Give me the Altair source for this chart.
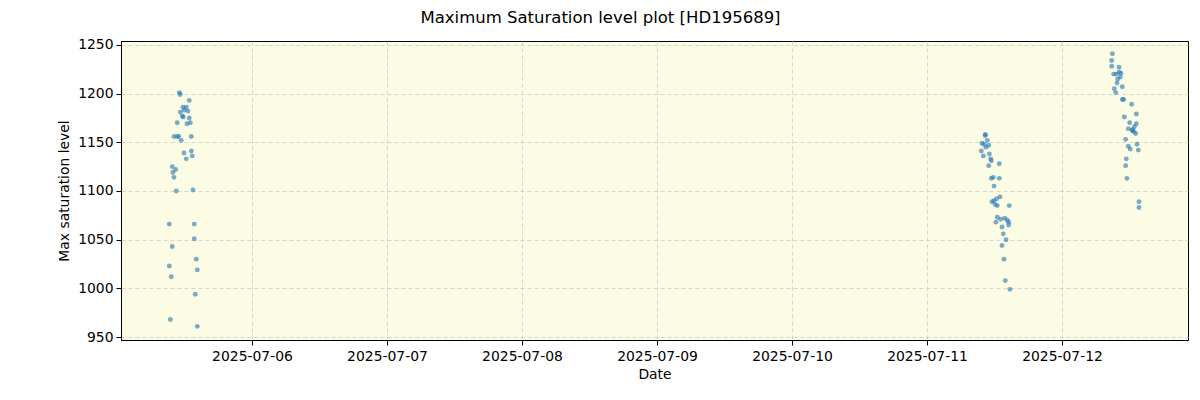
import altair as alt
import pandas as pd

# Cluster 1: 2025-07-05
times_1 = ["11:05", "11:15", "12:51", "11:44", "12:19", "11:15", "12:37", "11:58", "11:37", "11:47",
           "12:51", "13:02", "12:27", "10:43", "10:08", "10:43", "10:58", "13:13", "11:26", "11:55",
           "13:13", "13:23", "12:19", "09:50", "10:26", "09:57", "10:08", "10:33", "13:31", "09:18",
           "13:44", "13:44", "09:50", "14:06", "09:18", "14:17", "09:39", "13:55", "09:29", "14:17"]
values_1 = [1201, 1199, 1193, 1186, 1186, 1181, 1182, 1183, 1177, 1176,
            1175, 1170, 1169, 1170, 1156, 1156, 1156, 1156, 1152, 1139,
            1141, 1136, 1133, 1125, 1122, 1119, 1114, 1100, 1101, 1066,
            1066, 1051, 1043, 1030, 1023, 1019, 1012, 994, 968, 961]

# Cluster 2: 2025-07-11
times_2 = ["10:22", "10:22", "10:43", "09:47", "10:08", "10:29", "10:58", "09:39", "10:01", "11:05",
           "11:19", "11:26", "10:58", "12:51", "11:26", "11:47", "12:51", "11:55", "11:33", "11:55",
           "12:23", "12:59", "12:08", "12:30", "14:38", "12:30", "13:06", "13:49", "14:17", "14:31",
           "12:16", "14:31", "13:20", "13:34", "14:03", "13:20", "13:41", "13:55", "14:45"]
values_2 = [1158, 1157, 1152, 1149, 1148, 1145, 1147, 1141, 1136, 1138,
            1133, 1131, 1126, 1128, 1113, 1114, 1113, 1105, 1089, 1090,
            1092, 1094, 1086, 1085, 1085, 1073, 1071, 1072, 1070, 1068,
            1068, 1065, 1063, 1056, 1050, 1044, 1030, 1008, 999]

# Cluster 3: 2025-07-12
times_3 = ["08:57", "08:50", "08:50", "10:08", "09:11", "09:39", "10:08", "10:29", "10:22", "09:54",
           "09:47", "10:43", "09:18", "09:33", "10:43", "10:58", "12:23", "11:05", "13:13", "12:02",
           "13:13", "11:47", "12:30", "12:51", "12:45", "13:06", "12:30", "11:19", "13:20", "11:47",
           "12:08", "13:34", "11:26", "11:19", "11:33", "13:41", "13:41"]
values_3 = [1241, 1234, 1228, 1227, 1220, 1220, 1222, 1221, 1217, 1215,
            1211, 1207, 1205, 1201, 1194, 1194, 1189, 1176, 1179, 1170,
            1169, 1164, 1163, 1166, 1161, 1159, 1162, 1153, 1148, 1146,
            1143, 1142, 1133, 1126, 1113, 1089, 1083]

tick_dates = ["2025-07-06", "2025-07-07", "2025-07-08", "2025-07-09",
              "2025-07-10", "2025-07-11", "2025-07-12"]
y_ticks = [950, 1000, 1050, 1100, 1150, 1200, 1250]

rows = []
for day, ts, vs in [("2025-07-05", times_1, values_1),
                    ("2025-07-11", times_2, values_2),
                    ("2025-07-12", times_3, values_3)]:
    for t, v in zip(ts, vs):
        rows.append({"Date": f"{day}T{t}:00Z", "value": v})
df = pd.DataFrame(rows)

def dt(s, h=0, m=0):
    y, mo, d = map(int, s.split("-"))
    return alt.DateTime(year=y, month=mo, date=d, hours=h, minutes=m, utc=True)

font = "DejaVu Sans"
common = dict(labelFont=font, labelFontSize=13.9, labelColor="black",
              titleFont=font, titleFontSize=13.9, titleFontWeight="normal", titleColor="black",
              tickColor="black", domainColor="black", tickSize=5,
              gridColor="#cccccc", gridDash=[4, 3], gridWidth=0.8)

chart = alt.Chart(df).mark_circle(
    size=24, color="#1f77b4", opacity=0.6
).encode(
    x=alt.X("Date:T",
            scale=alt.Scale(type="utc", domain=[dt("2025-07-05", 0, 43), dt("2025-07-12", 22, 24)]),
            axis=alt.Axis(title="Date", values=[dt(s) for s in tick_dates],
                          labelExpr="utcFormat(datum.value, '%Y-%m-%d')",
                          labelPadding=4, titlePadding=5, **common)),
    y=alt.Y("value:Q",
            scale=alt.Scale(domain=[947, 1254], nice=False, zero=False),
            axis=alt.Axis(title="Max saturation level", values=y_ticks, format="d",
                          labelPadding=3, titlePadding=6, **common)),
).properties(
    width=1067, height=299,
    title=alt.TitleParams("Maximum Saturation level plot [HD195689]", font=font, fontSize=16.5,
                          fontWeight="normal", color="black", anchor="middle", offset=11, dx=-54),
    autosize=alt.AutoSizeParams(type="none"),
    padding={"left": 113, "top": 33, "right": 4, "bottom": 52},
).configure_view(
    fill="#fcfbe3", stroke="black", strokeWidth=1
)

chart.save("out.html", embed_options={"renderer": "svg", "actions": False})
